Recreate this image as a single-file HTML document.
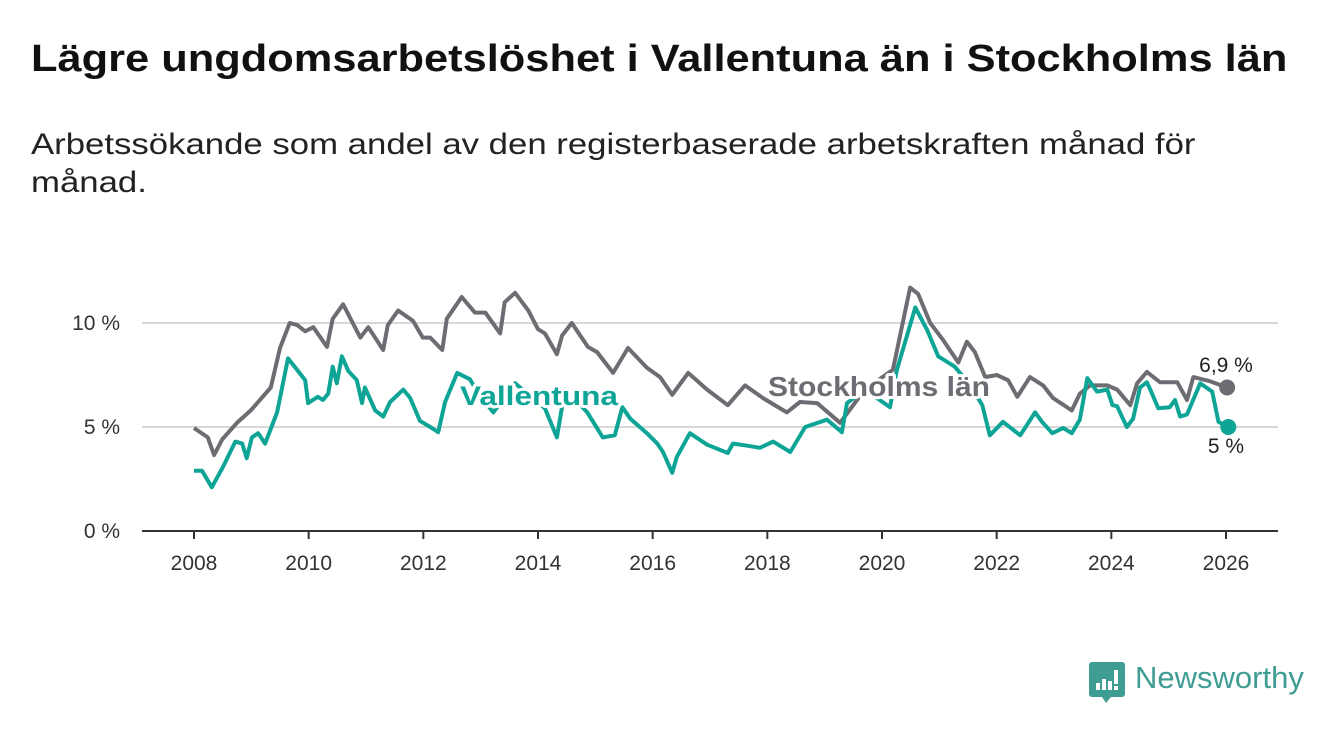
<!DOCTYPE html>
<html><head><meta charset="utf-8">
<style>
body{margin:0;background:#fff;width:1340px;height:734px;overflow:hidden;font-family:"Liberation Sans",sans-serif;}
#title{position:absolute;left:31px;top:38px;font-size:38px;font-weight:bold;color:#111;margin:0;white-space:nowrap;transform-origin:0 0;transform:scaleX(1.142)}
#sub{position:absolute;left:31px;top:126px;font-size:30px;line-height:38px;color:#222;margin:0;white-space:nowrap;transform-origin:0 0;transform:scaleX(1.158)}
svg{position:absolute;left:0;top:0}
</style></head><body>
<h1 id="title">Lägre ungdomsarbetslöshet i Vallentuna än i Stockholms län</h1>
<p id="sub">Arbetssökande som andel av den registerbaserade arbetskraften månad för<br>månad.</p>
<svg id="chart" width="1340" height="734"></svg>
<script>
const yTicks=[0,5,10];
const yTickLabels=["0 %","5 %","10 %"];
const xTicks=[2008,2010,2012,2014,2016,2018,2020,2022,2024,2026];
const stoDates=[2008.0,2008.24,2008.35,2008.49,2008.75,2008.99,2009.34,2009.5,2009.67,2009.8,2009.94,2010.08,2010.32,2010.42,2010.6,2010.9,2011.04,2011.3,2011.38,2011.56,2011.82,2011.99,2012.12,2012.33,2012.41,2012.67,2012.9,2013.08,2013.34,2013.42,2013.6,2013.83,2014.0,2014.12,2014.33,2014.42,2014.59,2014.87,2015.03,2015.31,2015.57,2015.9,2016.13,2016.34,2016.62,2016.95,2017.31,2017.61,2017.92,2018.34,2018.57,2018.87,2019.27,2019.7,2020.19,2020.49,2020.63,2020.84,2021.06,2021.33,2021.48,2021.62,2021.8,2022.0,2022.2,2022.36,2022.58,2022.81,2022.98,2023.31,2023.45,2023.63,2023.93,2024.1,2024.33,2024.45,2024.62,2024.85,2025.15,2025.32,2025.43,2025.72,2026.02];
const stoValues=[4.95,4.5,3.65,4.4,5.2,5.8,6.9,8.8,10.0,9.9,9.6,9.8,8.85,10.2,10.9,9.3,9.8,8.7,9.9,10.6,10.1,9.3,9.3,8.7,10.2,11.25,10.5,10.5,9.5,11.0,11.45,10.6,9.7,9.5,8.5,9.4,10.0,8.85,8.6,7.6,8.8,7.85,7.4,6.55,7.6,6.8,6.05,7.0,6.4,5.7,6.2,6.15,5.2,6.8,7.75,11.7,11.4,10.0,9.2,8.1,9.1,8.6,7.4,7.5,7.25,6.45,7.4,7.0,6.4,5.8,6.6,7.0,7.0,6.8,6.05,7.1,7.65,7.15,7.15,6.3,7.4,7.2,6.9];
const valDates=[2008.0,2008.14,2008.31,2008.51,2008.72,2008.84,2008.92,2009.01,2009.12,2009.24,2009.45,2009.64,2009.81,2009.94,2009.99,2010.16,2010.25,2010.34,2010.42,2010.49,2010.58,2010.69,2010.84,2010.93,2010.98,2011.16,2011.3,2011.42,2011.65,2011.77,2011.94,2012.12,2012.26,2012.38,2012.59,2012.81,2012.99,2013.22,2013.6,2013.86,2014.12,2014.33,2014.47,2014.65,2014.86,2015.13,2015.34,2015.47,2015.61,2015.9,2016.08,2016.18,2016.34,2016.42,2016.65,2016.95,2017.31,2017.4,2017.65,2017.87,2018.1,2018.4,2018.66,2019.04,2019.3,2019.39,2019.7,2020.14,2020.26,2020.58,2020.79,2020.98,2021.27,2021.54,2021.75,2021.88,2022.11,2022.41,2022.67,2022.79,2022.97,2023.16,2023.31,2023.45,2023.58,2023.75,2023.93,2024.02,2024.1,2024.27,2024.38,2024.5,2024.62,2024.68,2024.82,2025.02,2025.11,2025.2,2025.32,2025.55,2025.76,2025.87,2026.04];
const valValues=[2.9,2.9,2.1,3.1,4.3,4.2,3.5,4.5,4.7,4.2,5.7,8.3,7.7,7.25,6.15,6.45,6.3,6.6,7.9,7.1,8.4,7.7,7.25,6.15,6.9,5.8,5.5,6.2,6.8,6.4,5.3,5.0,4.75,6.2,7.6,7.3,6.5,5.7,7.1,6.5,5.9,4.5,6.8,6.3,5.7,4.5,4.6,5.95,5.4,4.7,4.2,3.8,2.8,3.55,4.7,4.15,3.75,4.2,4.1,4.0,4.3,3.8,5.0,5.35,4.75,6.15,6.8,5.95,7.75,10.75,9.65,8.4,7.9,7.0,6.05,4.6,5.25,4.6,5.7,5.25,4.7,4.95,4.7,5.35,7.35,6.7,6.8,6.05,6.0,5.0,5.4,6.9,7.15,6.8,5.9,5.95,6.3,5.5,5.6,7.1,6.7,5.25,5.0];

const NS="http://www.w3.org/2000/svg";
const svg=document.getElementById('chart');
const x=v=>194+(v-2008)*(1226-194)/18;
const y=v=>531-v*20.8;
function mk(tag,attrs,parent){const e=document.createElementNS(NS,tag);for(const k in attrs)e.setAttribute(k,attrs[k]);(parent||svg).appendChild(e);return e;}
yTicks.forEach((t,i)=>{
  const g=mk('line',{x1:142,x2:1278,y1:y(t),y2:y(t),stroke:t===0?'#333':'#d8d8d8','stroke-width':2});
  
  
  const tx=mk('text',{x:120,y:y(t)+7,'text-anchor':'end','font-size':21,fill:'#333','font-family':'Liberation Sans, sans-serif'});
  tx.textContent=yTickLabels[i];
  
  
});
xTicks.forEach(t=>{
  const l=mk('line',{x1:x(t),x2:x(t),y1:531,y2:539,stroke:'#333','stroke-width':2});
  
  
  const tx=mk('text',{x:x(t),y:570,'text-anchor':'middle','font-size':21,fill:'#333','font-family':'Liberation Sans, sans-serif'});
  tx.textContent=t;
  
  
});
function path(d,v){return d.map((t,i)=>(i?'L':'M')+x(t).toFixed(1)+','+y(v[i]).toFixed(1)).join('');}
const sl=mk('path',{d:path(stoDates,stoValues),fill:'none',stroke:'#6d6c72','stroke-width':4,'stroke-linejoin':'round'});


const vl=mk('path',{d:path(valDates,valValues),fill:'none',stroke:'#0ea597','stroke-width':4,'stroke-linejoin':'round'});


const sd=mk('circle',{cx:x(stoDates[stoDates.length-1]),cy:y(stoValues[stoValues.length-1]),r:8,fill:'#6d6c72'});


const vd=mk('circle',{cx:x(valDates[valDates.length-1]),cy:y(valValues[valValues.length-1]),r:8,fill:'#0ea597'});


function lab(txt,xx,yy,fill,size,w,len,anchor){
  const a={x:xx,y:yy,'font-size':size,'font-weight':w,fill:fill,stroke:'#fff','stroke-width':6,'paint-order':'stroke','stroke-linejoin':'round','font-family':'Liberation Sans, sans-serif','text-anchor':anchor||'start'};
  if(len){a.textLength=len;a.lengthAdjust='spacingAndGlyphs';}
  const t=mk('text',a);
  t.textContent=txt;return t;
}
const l1=lab('Vallentuna',460,405,'#0ea597',27,'bold',158);


const l2=lab('Stockholms län',768,396,'#6d6c72',28,'bold',222);


const l3=lab('6,9 %',1226,372,'#222',21,'normal',0,'middle');


const l4=lab('5 %',1226,453,'#222',21,'normal',0,'middle');


</script>
<div style="position:absolute;left:1089px;top:662px;">
<svg width="36" height="42" style="position:absolute;left:0;top:0"><path d="M3 0h30a3 3 0 0 1 3 3v29a3 3 0 0 1-3 3H22l-5 6-4-6H3a3 3 0 0 1-3-3V3a3 3 0 0 1 3-3z" fill="#3f9d93"/><rect x="7" y="21" width="4" height="7" fill="#fff"/><rect x="13" y="17" width="4" height="11" fill="#fff"/><rect x="19" y="19" width="4" height="9" fill="#fff"/><rect x="25" y="8" width="4" height="14" fill="#fff"/><rect x="25" y="24" width="4" height="4" fill="#fff"/></svg>
<span style="position:absolute;left:46px;top:-2px;font-size:31px;color:#3f9d93;font-weight:500;white-space:nowrap">Newsworthy</span>
</div>
</body></html>
